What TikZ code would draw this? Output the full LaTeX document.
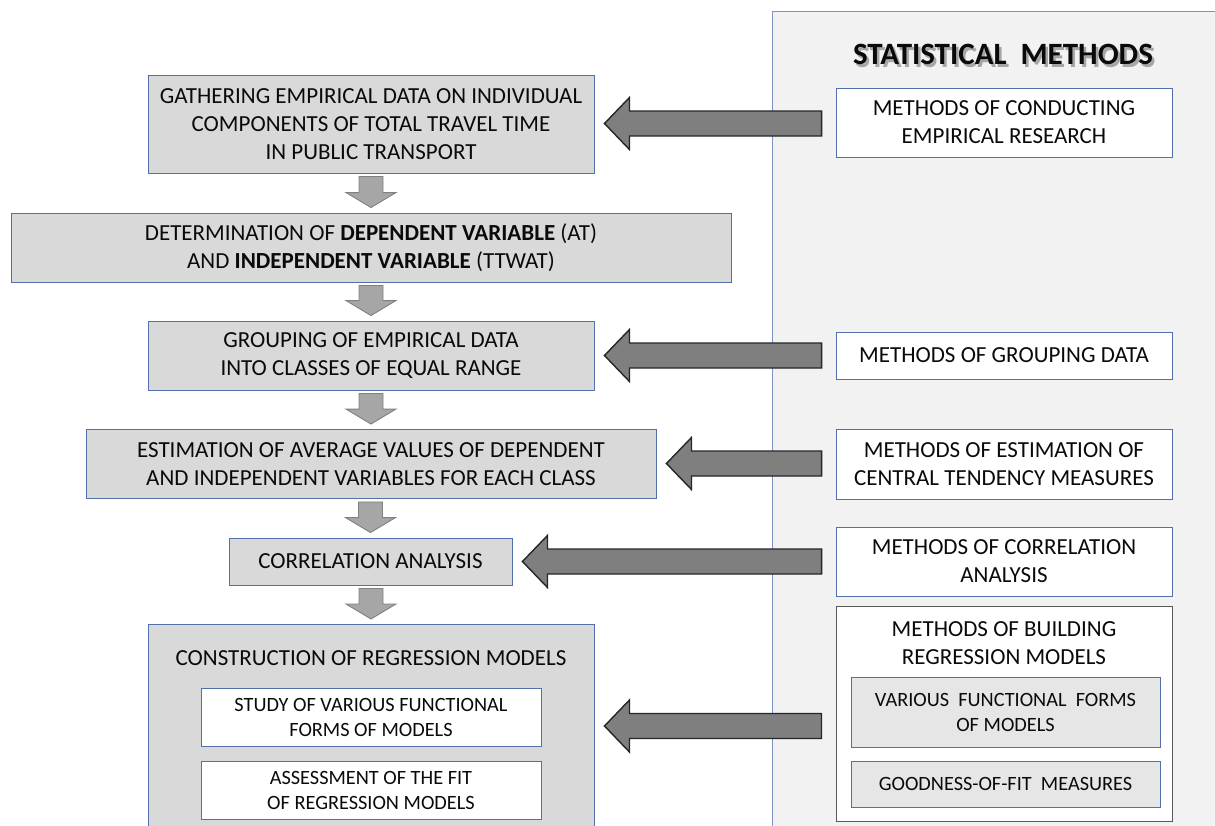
\documentclass[tikz,border=0pt]{standalone}
\usepackage{fontspec}
\setmainfont{Carlito}
\usetikzlibrary{calc}
\definecolor{boxfill}{HTML}{D9D9D9}
\definecolor{boxline}{HTML}{5470AC}
\definecolor{panelfill}{HTML}{F2F2F2}
\definecolor{panelline}{HTML}{7F93C2}
\definecolor{subfill}{HTML}{E6E6E6}
\definecolor{darkline}{HTML}{595959}
\definecolor{txt}{HTML}{0A0A0A}
\definecolor{shadowtxt}{HTML}{A6A6A6}
\definecolor{downfill}{HTML}{A6A6A6}
\definecolor{downline}{HTML}{808080}
\definecolor{bigfill}{HTML}{7F7F7F}
\tikzset{
  stepbox/.style={draw=boxline, fill=boxfill, line width=0.9pt, rectangle, inner sep=0pt, align=center, text=txt, font=\fontsize{23}{28}\selectfont},
  methbox/.style={draw=boxline, fill=white, line width=0.9pt, rectangle, inner sep=0pt, align=center, text=txt, font=\fontsize{23}{28}\selectfont},
  subbox/.style={draw=boxline, fill=white, line width=0.9pt, rectangle, inner sep=0pt, align=center, text=txt, font=\fontsize{20.3}{25}\selectfont},
  subgray/.style={draw=boxline, fill=subfill, line width=0.9pt, rectangle, inner sep=0pt, align=center, text=txt, font=\fontsize{20.3}{25}\selectfont},
  plaintext/.style={inner sep=0pt, align=center, text=txt, font=\fontsize{23}{28}\selectfont},
  downarrow/.style={draw=downline, fill=downfill, line width=0.9pt, line join=miter},
  bigarrow/.style={draw=black!85, fill=bigfill, line width=1.4pt, line join=miter},
}
\newcommand{\DBarrow}[2]{\path[downarrow] let \p1=#1, \p2=#2 in
  (\x2-12pt,\y1) -- (\x2+12pt,\y1) -- (\x2+12pt,\y2+15pt) -- (\x2+25pt,\y2+15pt) -- (\x2,\y2) -- (\x2-25pt,\y2+15pt) -- (\x2-12pt,\y2+15pt) -- cycle;}
\newcommand{\LBarrow}[2]{\path[bigarrow] let \p1=#1, \p2=#2 in
  (\x1,\y2+12.5pt) -- (\x2+25pt,\y2+12.5pt) -- (\x2+25pt,\y2+26pt) -- (\x2,\y2) -- (\x2+25pt,\y2-26pt) -- (\x2+25pt,\y2-12.5pt) -- (\x1,\y2-12.5pt) -- cycle;}
\newcommand{\ShadowText}[1]{\makebox[0pt][l]{\hspace{2.5pt}\raisebox{-2.5pt}{\color{shadowtxt}#1}}#1}
\begin{document}
\begin{tikzpicture}[x=1pt,y=-1pt]
\useasboundingbox (0,0) rectangle (1215,825);
\begin{scope}
\clip (0,0) rectangle (1215,825);
% right panel
\node[draw=panelline, fill=panelfill, line width=0.9pt, rectangle, inner sep=0pt, minimum width=460, minimum height=830, anchor=north west] (panel) at (772,11) {};
% title with shadow
\node[inner sep=0pt, text=txt, font=\fontsize{31}{34}\selectfont\bfseries] (title) at (1003,56) {\ShadowText{STATISTICAL\ \ METHODS}};

% left steps
\node[stepbox, minimum width=446, minimum height=98] (b1) at (371,124) {GATHERING EMPIRICAL DATA ON INDIVIDUAL\\COMPONENTS OF TOTAL TRAVEL TIME\\IN PUBLIC TRANSPORT};
\node[stepbox, minimum width=720, minimum height=69] (b2) at (371,247.5) {DETERMINATION OF \textbf{DEPENDENT VARIABLE} (AT)\\AND \textbf{INDEPENDENT VARIABLE} (TTWAT)};
\node[stepbox, minimum width=446, minimum height=69] (b3) at (371,355.5) {GROUPING OF EMPIRICAL DATA\\INTO CLASSES OF EQUAL RANGE};
\node[stepbox, minimum width=570, minimum height=69] (b4) at (371,464) {ESTIMATION OF AVERAGE VALUES OF DEPENDENT\\AND INDEPENDENT VARIABLES FOR EACH CLASS};
\node[stepbox, minimum width=283, minimum height=47] (b5) at (370.5,561.5) {CORRELATION ANALYSIS};
\node[stepbox, minimum width=446, minimum height=220, anchor=north] (b6) at (371,624) {};
\node[plaintext] (b6t) at (371,658) {CONSTRUCTION OF REGRESSION MODELS};
\node[subbox, minimum width=340, minimum height=58] (c6a) at (371,717) {STUDY OF VARIOUS FUNCTIONAL\\FORMS OF MODELS};
\node[subbox, minimum width=340, minimum height=58] (c6b) at (371,790) {ASSESSMENT OF THE FIT\\OF REGRESSION MODELS};

% right methods
\node[methbox, minimum width=336, minimum height=69] (r1) at (1004,122.5) {METHODS OF CONDUCTING\\EMPIRICAL RESEARCH};
\node[methbox, minimum width=336, minimum height=47] (r2) at (1004,355.5) {METHODS OF GROUPING DATA};
\node[methbox, minimum width=336, minimum height=70] (r3) at (1004,464) {METHODS OF ESTIMATION OF\\CENTRAL TENDENCY MEASURES};
\node[methbox, minimum width=336, minimum height=69] (r4) at (1004,561.5) {METHODS OF CORRELATION\\ANALYSIS};
\node[draw=darkline, fill=white, line width=1pt, rectangle, inner sep=0pt, minimum width=336, minimum height=215] (r5) at (1004,713.5) {};
\node[plaintext] (r5t) at (1004,643) {METHODS OF BUILDING\\REGRESSION MODELS};
\node[subgray, minimum width=309, minimum height=70] (r5a) at (1005.5,712) {VARIOUS\ \ FUNCTIONAL\ \ FORMS\\OF MODELS};
\node[subgray, minimum width=309, minimum height=46] (r5b) at (1005.5,784) {GOODNESS-OF-FIT\ \ MEASURES};

% down arrows
\DBarrow{($(b1.south)+(0,3)$)}{($(b2.north)+(0,-5)$)}
\DBarrow{($(b2.south)+(0,3)$)}{($(b3.north)+(0,-5)$)}
\DBarrow{($(b3.south)+(0,3)$)}{($(b4.north)+(0,-5)$)}
\DBarrow{($(b4.south)+(0,3)$)}{($(b5.north)+(0,-5)$)}
\DBarrow{($(b5.south)+(0,3)$)}{($(b6.north)+(0,-5)$)}

% big left arrows
\LBarrow{($(r1.west)+(-14,0)$)}{($(b1.east)+(10,-0.5)$)}
\LBarrow{($(r2.west)+(-14,0)$)}{($(b3.east)+(10,0)$)}
\LBarrow{($(r3.west)+(-14,0)$)}{($(b4.east)+(10,-0.5)$)}
\LBarrow{($(r4.west)+(-14,0)$)}{($(b5.east)+(10,0)$)}
\coordinate (a6tip) at ($(b6.north east)+(10,102)$);
\LBarrow{($(r5.west)+(-14,0)$)}{(a6tip)}
\end{scope}
\end{tikzpicture}
\end{document}
